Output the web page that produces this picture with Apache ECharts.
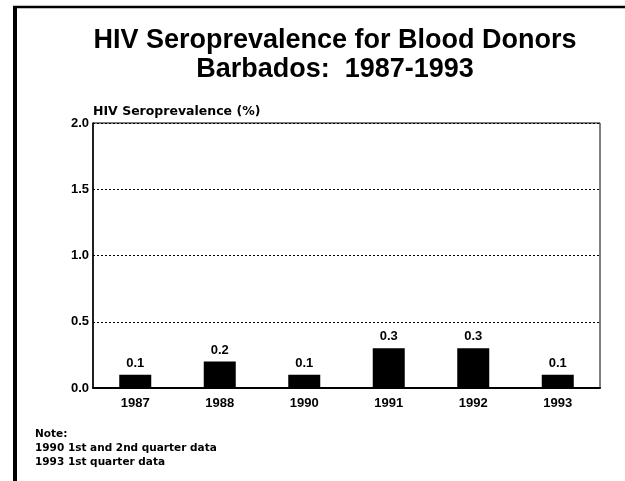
<!DOCTYPE html>
<html>
<head>
<meta charset="utf-8">
<script src="https://cdn.jsdelivr.net/npm/echarts@6/dist/echarts.min.js"></script>
<style>
html,body{margin:0;padding:0;background:#fff;}
#chart{width:625px;height:481px;}
</style>
</head>
<body>
<div id="chart"></div>
<script>
const categories = ['1987', '1988', '1990', '1991', '1992', '1993'];
const seroprevalence = [0.1, 0.2, 0.1, 0.3, 0.3, 0.1];
const titleLines = ['HIV Seroprevalence for Blood Donors', 'Barbados:  1987-1993'];
const yAxisTitle = 'HIV Seroprevalence (%)';
const noteLines = ['Note:', '1990 1st and 2nd quarter data', '1993 1st quarter data'];

const FONT = '"Liberation Sans", Arial, sans-serif';
const WIDE = '"DejaVu Sans", "Liberation Sans", sans-serif';
const chart = echarts.init(document.getElementById('chart'));
chart.setOption({
  backgroundColor: '#fff',
  animation: false,
  title: {
    text: titleLines.join('\n'),
    left: 330, top: 21, textAlign: 'center',
    textStyle: { fontFamily: FONT, fontWeight: 'bold', fontSize: 27, color: '#000', lineHeight: 29 }
  },
  graphic: [
    { type: 'line', shape: { x1: 15, y1: 481, x2: 15, y2: 6 }, style: { stroke: '#000', lineWidth: 4 } },
    { type: 'line', shape: { x1: 13, y1: 7, x2: 625, y2: 7 }, style: { stroke: '#000', lineWidth: 2.5 } },
    { type: 'text', left: 93, top: 105, style: { text: yAxisTitle, font: 'bold 12.5px ' + WIDE, fill: '#000' } },
    { type: 'text', left: 35, top: 427, style: { text: noteLines.join('\n'), font: 'bold 10.5px ' + WIDE, lineHeight: 14, fill: '#000' } }
  ],
  grid: { left: 93, right: 25, top: 123, bottom: 93, show: true, borderColor: '#000', borderWidth: 1 },
  xAxis: {
    type: 'category', data: categories,
    axisLine: { lineStyle: { color: '#000', width: 2 } },
    axisTick: { show: false },
    axisLabel: { color: '#000', fontFamily: FONT, fontWeight: 'bold', fontSize: 13, margin: 9 }
  },
  yAxis: {
    type: 'value', min: 0, max: 2, interval: 0.5,
    axisLine: { show: true, lineStyle: { color: '#000', width: 1.5 } },
    axisTick: { show: false },
    axisLabel: { color: '#000', fontFamily: FONT, fontWeight: 'bold', fontSize: 13, margin: 4, formatter: v => v.toFixed(1) },
    splitLine: { lineStyle: { color: '#000', type: [2, 2], width: 1 } }
  },
  series: [{
    type: 'bar', data: seroprevalence, barWidth: 32,
    itemStyle: { color: '#000' },
    label: { show: true, position: 'top', distance: 5, color: '#000', fontFamily: FONT, fontWeight: 'bold', fontSize: 13, formatter: p => p.value.toFixed(1) }
  }]
});
</script>
</body>
</html>
